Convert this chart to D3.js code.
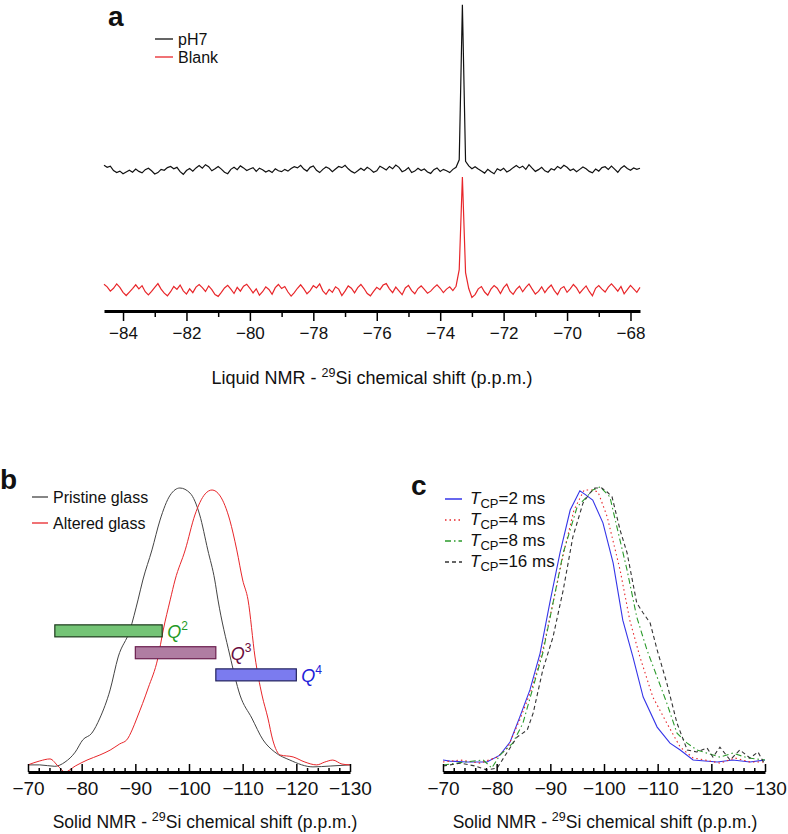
<!DOCTYPE html>
<meta charset="utf-8">
<script src="https://d3js.org/d3.v7.min.js"></script>
<style>
  body { margin: 0; background: #fff; }
  svg text { font-family: "Liberation Sans", Arial, Helvetica, sans-serif; fill: #111; }
</style>
<div id="chart"></div>
<script>
// ---------- panel a : liquid NMR (sampled every 0.1 p.p.m.) ----------
var liquidStart = -84.6, liquidStep = 0.1;
var liquidTicks = [-84, -82, -80, -78, -76, -74, -72, -70, -68];
var liquidMinor = [-83, -81, -79, -77, -75, -73, -71, -69];
var pH7Offset = 41.4;
var pH7Trace = [
  1.6, 0.9, 1.3, -0.2, -0.9, -0.4, -1.3, -0.7, -0.1, -0.8,
  0.3, -0.5, -1.0, 0.1, 0.6, -0.3, -1.4, -0.9, 0.2, -0.1,
  0.8, 1.2, 0.4, 0.9, -0.6, -1.5, -0.2, 0.5, -0.4, 0.7,
  1.5, 0.6, 1.8, 1.1, -0.3, 0.4, 1.2, 0.3, -0.8, -1.3,
  0.2, 0.9, 0.1, 1.4, 0.7, -0.2, 0.3, 0.8, -0.5, 0.6,
  0.1, -0.7, -0.2, -0.9, 0.4, -0.3, -0.6, 0.2, -0.4, 0.5,
  1.1, 0.7, 1.6, 0.3, -0.4, 0.9, 1.4, -0.1, -0.9, 0.2,
  1.0, 0.5, -0.6, 0.3, 1.2, 0.8, 1.6, 0.4, -0.5, -1.1,
  -0.3, 0.6, -0.2, 0.9, 0.2, -0.8, -0.3, 1.3, 0.7, 0.0,
  1.2, 0.4, 1.7, 0.9, -0.6, -0.1, 0.8, -0.9, -0.4, 0.6,
  -0.2, 0.3, -0.7, -1.2, 0.1, 0.7, -0.5, 0.2, -0.3, -0.9,
  0.2, 0.9, 3.5, 57, 3.0, 1.4, 0.4, 1.1, 0.3, -0.4,
  -1.1, 0.2, -0.6, -1.3, 0.4, -0.2, 0.6, -0.7, -0.1, 0.8,
  1.5, 0.7, 1.3, 0.2, 1.8, 0.6, -0.5, 0.1, 0.9, -0.3,
  -0.8, 0.4, 0.0, 1.2, 0.5, 1.6, 0.9, -0.2, 0.3, -0.6,
  0.2, 1.0, 0.4, -0.5, -1.0, 0.3, -0.4, 0.8, 1.1, 0.2,
  1.3, 0.3, -0.8, 0.6, 1.4, 0.5, -0.1, 0.7, 0.2, 0.6
];
var blankTrace = [
  2.0, 1.1, -0.4, 0.6, 2.1, 0.9, -0.8, -1.9, -0.7, 0.5,
  1.8, 0.4, 1.5, -0.6, -1.7, -0.5, 0.9, 2.2, 0.3, -1.1,
  -2.0, -0.6, 1.2, 0.2, 1.7, -0.3, -1.4, 0.4, -0.9, 1.0,
  1.9, 0.8, -0.5, 1.4, 0.1, -1.6, -2.2, -0.8, 0.7, 1.6,
  0.3, -1.2, 0.9, -0.4, 1.3, 2.0, 0.6, -1.0, 0.4, -1.8,
  -0.6, 1.1, 0.2, -1.5, 0.8, 1.9, 0.5, 1.2, -0.7, -2.1,
  -0.9, 0.6, 1.8, 0.4, -1.3, -0.2, 1.5, 0.7, 2.1, -0.3,
  -1.5, 0.2, -0.8, 1.1, 0.3, -1.9, -0.4, 1.4, 0.6, -1.0,
  0.8, 1.9, 0.5, -1.2, -2.0, -0.5, 0.9, 0.1, 1.7, 2.2,
  0.4, -0.9, 1.0, -0.3, -1.6, 0.7, 1.6, -0.2, -1.3, 0.5,
  1.4, 0.2, -1.1, -0.4, 0.8, 1.8, 0.6, -0.9, 0.3, 1.1,
  -0.2, 1.3, 7.0, 39, 6.0, 0.5, -2.6, -1.6, 0.4, 1.2,
  -0.7, -1.8, 0.3, 1.5, 0.6, -1.2, 0.8, 2.0, -0.4, -1.5,
  0.2, 1.3, -0.6, 0.9, 2.1, 0.3, -1.4, -0.5, 1.1, -0.9,
  0.6, 1.7, -0.2, -1.6, 0.5, 1.2, -0.8, 0.4, 1.9, 0.7,
  -1.1, 0.2, 1.4, -0.5, -2.0, 0.6, 1.5, 0.3, -0.7, 1.0,
  2.1, 0.9, -0.4, 1.2, -1.3, 0.1, 1.6, 0.4, -0.8, 0.9
];

// ---------- panel b : solid NMR, pristine vs altered ----------
var solidTicks = [-70, -80, -90, -100, -110, -120, -130];
var solidMinor = d3.range(-72, -130, -2).filter(function(v) { return v % 10 !== 0; });
var pristinePpm = [-70, -72.2, -75, -76.9, -78.8, -80.2, -81.9, -83.4, -85.3, -86.8, -89, -90.5,
  -91.4, -93.1, -94.6, -96.5, -98.3, -100.2, -102, -103.5, -104.8, -105.4, -107.6, -109.5,
  -111.7, -113.8, -116, -118.8, -123.1, -126.3, -130];
var pristineInt = [0.025, 0.025, 0.02, 0.035, 0.07, 0.113, 0.137, 0.19, 0.289, 0.405, 0.5, 0.606,
  0.676, 0.782, 0.887, 0.975, 1, 0.982, 0.905, 0.782, 0.676, 0.606, 0.412, 0.271,
  0.19, 0.113, 0.07, 0.042, 0.018, 0.021, 0.025];
var alteredPpm = [-70, -72.2, -74.1, -75.6, -76.9, -78.8, -81, -83.4, -85.3, -87.1, -88.4, -89.4,
  -90.3, -92.4, -94.2, -95.2, -96.5, -97.4, -99.3, -101.1, -103, -104.3, -105.8, -107.6,
  -108.9, -110, -111, -112.3, -113.6, -114.7, -115.6, -117, -119.4, -121.6, -123.8,
  -125.3, -126.8, -128.5, -130];
var alteredInt = [0.025, 0.039, 0.046, 0.021, 0, 0.021, 0.042, 0.06, 0.077, 0.099, 0.113, 0.148,
  0.19, 0.296, 0.401, 0.5, 0.606, 0.676, 0.782, 0.905, 0.979, 0.993, 0.972, 0.887,
  0.782, 0.676, 0.606, 0.405, 0.271, 0.19, 0.113, 0.06, 0.053, 0.035, 0.025,
  0.035, 0.042, 0.028, 0.025];
var qNames = ["2", "3", "4"];
var qFrom = [-75, -90, -105];
var qTo = [-95, -105, -120];
var qLevel = [0.497, 0.42, 0.342];

// ---------- panel c : contact time series ----------
var tcpNames = ["2", "4", "8", "16"];
var tcp2Ppm = [-70, -71.3, -74.5, -78.2, -80.6, -82.5, -84.3, -86.2, -88.1, -89.9, -91.8, -93.7,
  -95.5, -96.6, -97.9, -99.8, -101.7, -103.5, -105.4, -107.3, -109.9, -112.3, -114.2,
  -116.6, -121.1, -124, -127.2, -130];
var tcp2Int = [0.042, 0.038, 0.035, 0.035, 0.059, 0.105, 0.192, 0.287, 0.416, 0.591, 0.766, 0.916,
  0.983, 0.969, 0.951, 0.871, 0.731, 0.531, 0.402, 0.262, 0.157, 0.101, 0.077,
  0.042, 0.035, 0.042, 0.035, 0.042];
var tcp4Ppm = [-70, -73.2, -76.9, -80.1, -82, -84.3, -86.6, -88.6, -90.5, -92.4, -94.4, -96.3,
  -97.8, -98.9, -100.6, -103, -104.8, -106.7, -109.1, -111.7, -114.2, -116.6, -118.8,
  -121.6, -124.4, -127.2, -130];
var tcp4Int = [0.035, 0.042, 0.031, 0.052, 0.084, 0.182, 0.294, 0.427, 0.591, 0.759, 0.916, 0.986,
  0.986, 0.979, 0.892, 0.706, 0.531, 0.402, 0.262, 0.171, 0.087, 0.049, 0.042,
  0.031, 0.049, 0.035, 0.035];
var tcp8Ppm = [-70, -74.1, -77.5, -79.1, -80.6, -83, -84.9, -86.8, -88.6, -90.5, -92.4, -95,
  -96.8, -97.9, -99.3, -101.1, -102.4, -104.3, -106.1, -108, -109.9, -111.7, -113.6,
  -115.5, -117.3, -119.2, -121.6, -124, -126.8, -130];
var tcp8Int = [0.024, 0.035, 0.042, 0.014, 0.059, 0.101, 0.171, 0.297, 0.416, 0.591, 0.766, 0.927,
  0.962, 0.986, 0.997, 0.962, 0.857, 0.706, 0.542, 0.427, 0.332, 0.241, 0.136,
  0.101, 0.077, 0.066, 0.052, 0.066, 0.049, 0.042];
var tcp16Ppm = [-70, -73.2, -76, -78.2, -80.1, -82, -83.8, -85.7, -86.8, -88.6, -90.5, -92.4,
  -94.2, -96.1, -97.4, -98.3, -99.6, -100.6, -101.5, -103, -104.3, -106.1, -107.3,
  -108.6, -109.9, -111.7, -113.6, -115.5, -117.3, -119.2, -120.3, -121.6, -123.5,
  -125.3, -127.2, -128.7, -130];
var tcp16Int = [0.021, 0.031, 0.021, 0.007, 0.014, 0.07, 0.122, 0.147, 0.206, 0.357, 0.472, 0.636,
  0.822, 0.941, 0.976, 0.993, 0.993, 0.979, 0.962, 0.846, 0.766, 0.591, 0.556,
  0.521, 0.427, 0.311, 0.171, 0.077, 0.07, 0.084, 0.052, 0.087, 0.042,
  0.077, 0.049, 0.07, 0.024];

var font = '"Liberation Sans", Arial, Helvetica, sans-serif';

var svg = d3.select("#chart").append("svg")
  .attr("width", 788)
  .attr("height", 834);

function pairs(xs, ys) {
  return xs.map(function(v, i) { return [v, ys[i]]; });
}

// axis title with superscript 29
function axisTitle(g, x, y, prefix, size) {
  var t = g.append("text")
    .attr("x", x).attr("y", y)
    .attr("text-anchor", "middle")
    .style("font-size", size + "px");
  t.append("tspan").text(prefix + " - ");
  t.append("tspan").attr("dy", -7).style("font-size", "12.5px").text("29");
  t.append("tspan").attr("dy", 7).text("Si chemical shift (p.p.m.)");
}

function styleAxis(g, w) {
  g.select(".domain").attr("stroke", "#000").attr("stroke-width", w);
  g.selectAll(".tick line").attr("stroke", "#000").attr("stroke-width", 1.5);
}

// ================= panel a =================
var xA = d3.scaleLinear().domain([liquidStart, -67.7]).range([104, 640]);
var yA = d3.scaleLinear().domain([0, 100]).range([290, 0]);

var lineA = d3.line()
  .x(function(d, i) { return xA(liquidStart + i * liquidStep); })
  .y(function(d) { return yA(d); });

svg.append("path")
  .datum(pH7Trace.map(function(v) { return v + pH7Offset; }))
  .attr("fill", "none").attr("stroke", "#111").attr("stroke-width", 1.2)
  .attr("d", lineA);
svg.append("path")
  .datum(blankTrace)
  .attr("fill", "none").attr("stroke", "#e8262a").attr("stroke-width", 1.2)
  .attr("d", lineA);

var gAminor = svg.append("g")
  .attr("transform", "translate(0,311)")
  .call(d3.axisBottom(xA).tickValues(liquidMinor).tickSize(6).tickSizeOuter(0).tickFormat(""));
gAminor.select(".domain").remove();
gAminor.selectAll(".tick line").attr("stroke", "#000").attr("stroke-width", 1.5);

var gA = svg.append("g")
  .attr("transform", "translate(0,311)")
  .call(d3.axisBottom(xA).tickValues(liquidTicks).tickSize(10).tickSizeOuter(0)
    .tickPadding(6).tickFormat(function(d) { return "\u2212" + Math.abs(d); }));
styleAxis(gA, 3);
gA.selectAll(".tick text").style("font-size", "17px").style("font-family", font).attr("fill", "#111");

axisTitle(svg, 372, 384, "Liquid NMR", 18);

svg.append("text").attr("x", 108).attr("y", 26)
  .style("font-size", "28px").style("font-weight", "bold").text("a");

var legA = [["pH7", "#111"], ["Blank", "#e8262a"]];
legA.forEach(function(d, i) {
  svg.append("line").attr("x1", 155).attr("x2", 173)
    .attr("y1", 39 + i * 18).attr("y2", 39 + i * 18)
    .attr("stroke", d[1]).attr("stroke-width", 1.3);
  svg.append("text").attr("x", 178).attr("y", 45 + i * 18)
    .style("font-size", "16px").text(d[0]);
});

// ================= panel b =================
var xB = d3.scaleLinear().domain([-70, -130]).range([28, 350]);
var yB = d3.scaleLinear().domain([0, 1]).range([772, 488]);

var lineB = d3.line()
  .x(function(d) { return xB(d[0]); })
  .y(function(d) { return yB(d[1]); })
  .curve(d3.curveMonotoneX);

svg.append("path").datum(pairs(pristinePpm, pristineInt))
  .attr("fill", "none").attr("stroke", "#444").attr("stroke-width", 1)
  .attr("d", lineB);
svg.append("path").datum(pairs(alteredPpm, alteredInt))
  .attr("fill", "none").attr("stroke", "#e8262a").attr("stroke-width", 1)
  .attr("d", lineB);

var qFill = ["#74c476", "#b07da2", "#7b7bef"];
var qStroke = ["#1c3a1c", "#6b1f4f", "#22225e"];
var qText = ["#1f9a26", "#6a0d3e", "#2121d9"];
var qLabelDx = [5, 15, 5];
var barH = 12;

qNames.forEach(function(n, i) {
  svg.append("rect")
    .attr("x", xB(qFrom[i])).attr("y", yB(qLevel[i]) - barH / 2)
    .attr("width", xB(qTo[i]) - xB(qFrom[i])).attr("height", barH)
    .attr("fill", qFill[i]).attr("stroke", qStroke[i]).attr("stroke-width", 1.2);
  var t = svg.append("text")
    .attr("x", xB(qTo[i]) + qLabelDx[i]).attr("y", yB(qLevel[i]) + 7)
    .attr("fill", qText[i]).style("fill", qText[i]).style("font-size", "18px");
  t.append("tspan").style("font-style", "italic").text("Q");
  t.append("tspan").attr("dy", -8).style("font-size", "12px").text(n);
});

function solidAxis(x) {
  var gm = svg.append("g")
    .attr("transform", "translate(0,772)")
    .call(d3.axisBottom(x).tickValues(solidMinor).tickSize(-4).tickSizeOuter(0).tickFormat(""));
  gm.select(".domain").remove();
  gm.selectAll(".tick line").attr("stroke", "#000").attr("stroke-width", 1.5);
  var g = svg.append("g")
    .attr("transform", "translate(0,772)")
    .call(d3.axisBottom(x).tickValues(solidTicks).tickSize(-8).tickSizeOuter(0)
      .tickPadding(10).tickFormat(function(d) { return "\u2212" + Math.abs(d); }));
  styleAxis(g, 3);
  g.selectAll(".tick text").style("font-size", "19px").style("font-family", font).attr("fill", "#111");
}
solidAxis(xB);
axisTitle(svg, 205, 828, "Solid NMR", 17.5);

svg.append("text").attr("x", 0).attr("y", 489)
  .style("font-size", "28px").style("font-weight", "bold").text("b");

var legB = [["Pristine glass", "#444"], ["Altered glass", "#e8262a"]];
legB.forEach(function(d, i) {
  svg.append("line").attr("x1", 32).attr("x2", 48)
    .attr("y1", 497 + i * 26).attr("y2", 497 + i * 26)
    .attr("stroke", d[1]).attr("stroke-width", 1.3);
  svg.append("text").attr("x", 53).attr("y", 503 + i * 26)
    .style("font-size", "16px").text(d[0]);
});

// ================= panel c =================
var xC = d3.scaleLinear().domain([-70, -130]).range([443, 765]);
var yC = d3.scaleLinear().domain([0, 1]).range([772, 486]);

var lineC = d3.line()
  .x(function(d) { return xC(d[0]); })
  .y(function(d) { return yC(d[1]); });

var tcpSeries = [pairs(tcp2Ppm, tcp2Int), pairs(tcp4Ppm, tcp4Int),
                 pairs(tcp8Ppm, tcp8Int), pairs(tcp16Ppm, tcp16Int)];
var tcpColor = ["#3535e8", "#e8262a", "#2a9a2a", "#333"];
var tcpDash = [null, "1.5,3", "6,3,1.5,3", "4,3"];

tcpSeries.forEach(function(s, i) {
  svg.append("path").datum(s)
    .attr("fill", "none").attr("stroke", tcpColor[i]).attr("stroke-width", 1.1)
    .attr("stroke-dasharray", tcpDash[i])
    .attr("d", lineC);
});

solidAxis(xC);
axisTitle(svg, 605, 828, "Solid NMR", 17.5);

svg.append("text").attr("x", 411).attr("y", 495)
  .style("font-size", "28px").style("font-weight", "bold").text("c");

tcpNames.forEach(function(n, i) {
  var y = 499 + i * 21;
  svg.append("line").attr("x1", 445).attr("x2", 462).attr("y1", y).attr("y2", y)
    .attr("stroke", tcpColor[i]).attr("stroke-width", 1.5)
    .attr("stroke-dasharray", tcpDash[i]);
  var t = svg.append("text").attr("x", 470).attr("y", y + 5).style("font-size", "17px");
  t.append("tspan").style("font-style", "italic").text("T");
  t.append("tspan").attr("dy", 4).style("font-size", "13px").text("CP");
  t.append("tspan").attr("dy", -4).text("=" + n + " ms");
});
</script>
